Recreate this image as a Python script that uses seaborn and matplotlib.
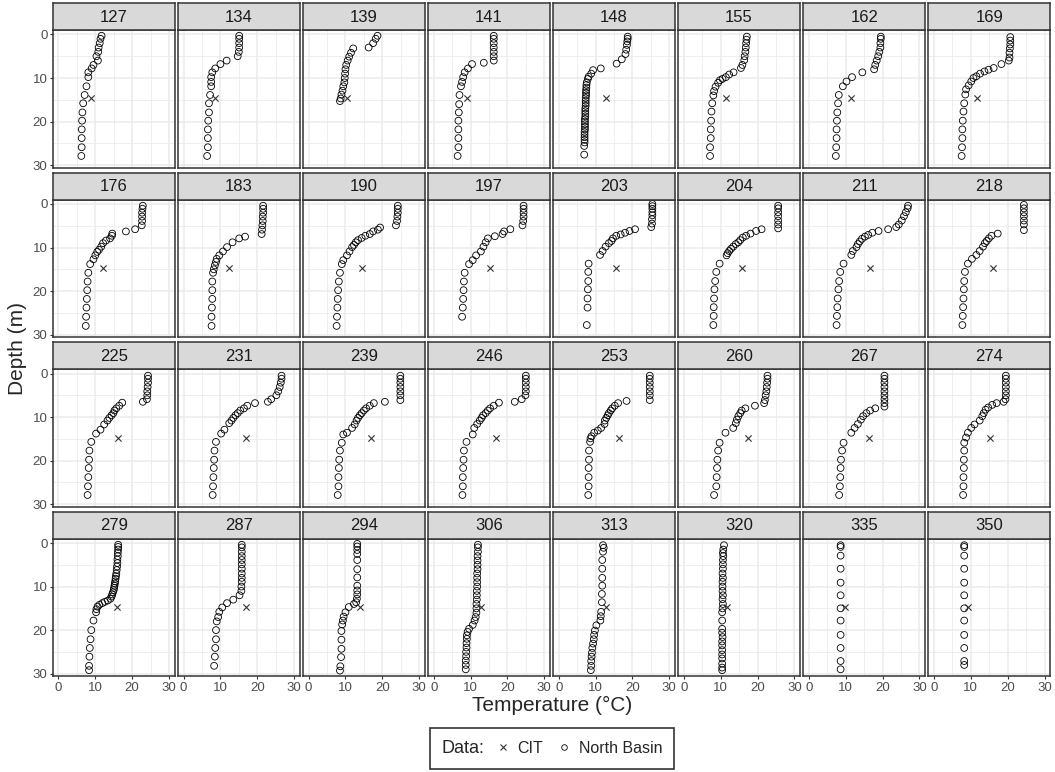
import pandas as pd
import matplotlib
matplotlib.use("Agg")
import matplotlib.pyplot as plt
import seaborn as sns
from matplotlib.lines import Line2D
from matplotlib.offsetbox import HPacker

# day of year shown in each facet
days = [127, 134, 139, 141, 148, 155, 162, 169,
        176, 183, 190, 197, 203, 204, 211, 218,
        225, 231, 239, 246, 253, 260, 267, 274,
        279, 287, 294, 306, 313, 320, 335, 350]

# North Basin profiles: (depth m, temperature C)
nb_127 = [(0.3, 11.7), (1.0, 11.4), (2.0, 11.2), (3.0, 10.9), (4.0, 10.8), (5.0, 10.3), (6.0, 10.7),
          (7.0, 9.5), (7.8, 9.0), (8.7, 8.1), (9.8, 8.1), (11.9, 7.6), (13.9, 7.1), (15.8, 6.7),
          (17.9, 6.5), (19.8, 6.4), (21.8, 6.3), (23.8, 6.3), (25.9, 6.3), (27.9, 6.2)]
nb_134 = [(0.3, 15.1), (1.0, 15.1), (2.0, 15.1), (3.0, 15.1), (4.0, 15.0), (5.0, 14.7), (6.0, 11.7),
          (6.8, 10.0), (7.8, 8.6), (8.7, 7.8), (9.8, 7.5), (10.9, 7.5), (11.9, 7.5), (13.9, 7.2),
          (15.8, 6.9), (17.9, 6.9), (19.8, 6.7), (21.8, 6.6), (23.8, 6.6), (25.9, 6.6), (27.9, 6.4)]
nb_139 = [(0.3, 18.7), (1.0, 18.2), (2.0, 17.5), (3.0, 16.3), (3.2, 12.1), (4.2, 11.5), (5.1, 11.0),
          (6.0, 10.6), (7.0, 10.2), (8.0, 10.0), (9.0, 9.9), (10.0, 9.8), (11.0, 9.7), (11.9, 9.4),
          (12.9, 9.2), (13.8, 8.9), (14.7, 8.7), (15.3, 8.5)]
nb_141 = [(0.3, 16.3), (1.0, 16.3), (2.0, 16.3), (3.0, 16.3), (4.0, 16.3), (5.0, 16.3), (6.0, 16.3),
          (6.5, 13.6), (6.8, 10.4), (7.8, 9.3), (8.7, 8.4), (9.8, 8.0), (10.9, 7.7), (11.9, 7.4),
          (13.9, 7.0), (16.0, 6.9), (17.9, 6.8), (19.8, 6.7), (21.8, 6.7), (23.8, 6.7), (25.9, 6.7),
          (27.9, 6.5)]
nb_148 = [(0.5, 18.7), (1.0, 18.7), (1.6, 18.6), (2.4, 18.5), (3.5, 18.3), (4.5, 18.1), (5.7, 17.1),
          (6.7, 15.7), (7.8, 11.4), (8.2, 9.3), (9.0, 8.8), (9.7, 8.1), (10.2, 7.9), (11.0, 7.6),
          (11.6, 7.5), (12.2, 7.5), (12.8, 7.4), (13.4, 7.4), (14.0, 7.4), (14.6, 7.3), (15.2, 7.3),
          (15.8, 7.3), (16.4, 7.3), (17.0, 7.2), (17.6, 7.2), (18.2, 7.2), (18.8, 7.2), (19.4, 7.1),
          (20.0, 7.1), (20.6, 7.1), (21.2, 7.1), (21.8, 7.1), (22.4, 7.0), (23.0, 7.0), (23.6, 7.0),
          (24.2, 7.0), (24.8, 7.0), (25.6, 6.9), (27.6, 6.9)]
nb_155 = [(0.5, 17.1), (1.2, 17.0), (2.0, 16.9), (3.0, 16.8), (4.0, 16.7), (5.0, 16.5), (5.9, 16.4),
          (7.0, 15.9), (7.7, 15.5), (8.7, 13.5), (9.2, 12.3), (9.8, 11.4), (10.2, 10.5), (10.5, 9.8),
          (11.1, 9.3), (12.0, 8.6), (13.0, 8.2), (14.0, 8.0), (15.8, 7.7), (17.7, 7.5), (19.8, 7.4),
          (21.8, 7.3), (23.8, 7.3), (25.9, 7.1), (27.9, 7.1)]
nb_162 = [(0.5, 19.5), (1.0, 19.5), (2.0, 19.4), (3.0, 19.4), (4.0, 19.1), (5.0, 18.8), (6.0, 18.4),
          (7.0, 18.0), (8.0, 17.7), (8.7, 14.5), (9.8, 11.7), (10.8, 10.2), (11.9, 9.2), (13.9, 8.1),
          (15.8, 7.9), (17.9, 7.7), (19.8, 7.6), (21.8, 7.5), (23.8, 7.5), (25.9, 7.4), (27.9, 7.3)]
nb_169 = [(0.6, 20.7), (1.4, 20.7), (2.3, 20.7), (3.2, 20.6), (4.2, 20.5), (5.3, 20.5), (6.0, 20.3),
          (6.8, 18.3), (7.7, 16.2), (8.1, 14.8), (8.5, 13.7), (9.0, 12.5), (9.6, 11.5), (10.0, 10.7),
          (10.8, 10.1), (11.7, 9.4), (12.6, 8.7), (13.8, 8.5), (15.8, 8.2), (17.7, 8.0), (19.8, 7.8),
          (21.8, 7.7), (23.8, 7.7), (25.9, 7.6), (27.9, 7.5)]
nb_176 = [(0.4, 22.9), (1.1, 22.8), (2.0, 22.7), (2.9, 22.7), (3.9, 22.7), (4.9, 22.6), (5.8, 20.8),
          (6.3, 18.3), (6.8, 14.6), (7.3, 14.5), (7.9, 14.0), (8.4, 12.9), (9.0, 12.1), (9.8, 11.6),
          (10.5, 11.0), (11.0, 10.5), (11.8, 10.0), (12.7, 9.5), (13.8, 8.6), (15.8, 8.1), (17.8, 7.9),
          (19.8, 7.8), (21.8, 7.7), (23.8, 7.6), (25.9, 7.5), (28.0, 7.4)]
nb_183 = [(0.4, 21.6), (1.1, 21.6), (2.0, 21.6), (2.9, 21.5), (3.9, 21.5), (4.9, 21.4), (5.9, 21.3),
          (6.9, 21.2), (7.5, 16.7), (7.9, 15.1), (8.8, 13.3), (9.9, 11.8), (10.9, 10.7), (11.8, 9.7),
          (12.6, 9.0), (13.3, 8.8), (14.1, 8.5), (15.0, 8.2), (15.8, 8.0), (17.8, 7.8), (19.8, 7.8),
          (21.8, 7.8), (23.8, 7.7), (25.9, 7.6), (28.0, 7.6)]
nb_190 = [(0.4, 24.2), (1.1, 24.2), (2.0, 24.2), (2.9, 24.1), (3.9, 24.0), (4.9, 23.7), (5.4, 19.4),
          (5.9, 18.8), (6.3, 17.5), (6.9, 16.6), (7.3, 15.4), (7.8, 14.4), (8.3, 13.4), (8.8, 12.8),
          (9.4, 12.3), (9.9, 11.8), (10.9, 11.1), (11.8, 10.4), (12.9, 9.4), (13.8, 9.0), (15.8, 8.5),
          (17.8, 8.2), (19.8, 8.0), (21.8, 7.9), (23.8, 7.8), (25.9, 7.7), (28.0, 7.6)]
nb_197 = [(0.4, 24.4), (1.1, 24.4), (2.0, 24.4), (2.9, 24.4), (3.9, 24.3), (4.9, 24.1), (5.8, 20.8),
          (6.3, 19.1), (6.9, 18.7), (7.4, 16.6), (7.9, 14.7), (8.8, 14.1), (9.8, 13.5), (10.9, 12.8),
          (11.8, 11.5), (12.9, 10.6), (13.8, 9.6), (15.8, 8.4), (17.8, 8.2), (19.8, 8.1), (21.8, 8.0),
          (23.8, 7.9), (25.9, 7.7)]
nb_203 = [(0.0, 25.4), (0.5, 25.4), (1.1, 25.4), (1.9, 25.4), (2.6, 25.4), (3.5, 25.3), (4.5, 25.3),
          (5.3, 25.1), (5.8, 20.7), (6.2, 19.2), (6.6, 18.0), (7.0, 16.8), (7.3, 15.6), (7.9, 14.7),
          (8.5, 14.3), (9.0, 13.6), (9.8, 12.7), (10.8, 11.9), (11.7, 11.2), (13.7, 8.1), (15.6, 8.0),
          (17.7, 8.0), (19.6, 7.9), (21.7, 7.8), (23.8, 7.8), (27.8, 7.6)]
nb_204 = [(0.4, 25.6), (1.0, 25.6), (1.9, 25.6), (2.8, 25.6), (3.8, 25.6), (4.7, 25.6), (5.6, 25.6),
          (5.8, 21.1), (6.2, 19.6), (6.8, 18.1), (7.3, 16.9), (7.7, 16.0), (8.3, 15.3), (8.8, 14.8),
          (9.2, 14.1), (9.8, 13.4), (10.3, 12.8), (10.8, 12.3), (11.3, 11.9), (11.8, 11.6), (13.7, 9.7),
          (15.6, 8.8), (17.7, 8.5), (19.6, 8.3), (21.7, 8.2), (23.7, 8.1), (25.7, 8.1), (27.8, 8.0)]
nb_211 = [(0.4, 26.9), (1.0, 26.8), (1.9, 26.3), (2.8, 25.8), (3.8, 25.2), (4.7, 24.4), (5.3, 23.7),
          (5.8, 21.5), (6.2, 18.9), (6.6, 17.2), (7.1, 16.1), (7.5, 15.2), (8.0, 14.4), (8.6, 13.8),
          (9.2, 13.3), (9.9, 12.9), (10.8, 11.9), (11.7, 11.5), (13.7, 9.4), (15.6, 8.5), (17.7, 8.2),
          (19.6, 8.0), (21.7, 7.8), (23.7, 7.7), (25.7, 7.6), (27.8, 7.5)]
nb_218 = [(0.2, 24.4), (1.0, 24.4), (1.9, 24.4), (2.8, 24.4), (3.8, 24.4), (4.7, 24.4), (6.0, 24.4),
          (6.8, 17.3), (7.3, 15.6), (7.9, 14.9), (8.5, 14.3), (9.0, 13.8), (9.8, 13.3), (10.8, 12.4),
          (11.7, 11.5), (12.6, 10.3), (13.7, 9.2), (15.6, 8.4), (17.7, 8.2), (19.6, 8.1), (21.7, 8.0),
          (23.7, 7.9), (25.7, 7.8), (27.8, 7.7)]
nb_225 = [(0.5, 24.3), (1.2, 24.3), (2.1, 24.3), (3.1, 24.2), (4.1, 24.1), (5.0, 24.1), (5.9, 24.0),
          (6.5, 22.9), (6.7, 17.3), (7.4, 16.5), (8.0, 15.7), (8.5, 15.2), (9.1, 14.9), (9.6, 14.4),
          (10.2, 13.8), (10.8, 13.3), (11.7, 12.4), (12.9, 11.4), (13.8, 10.2), (15.7, 8.9), (17.7, 8.4),
          (19.8, 8.3), (21.7, 8.2), (23.8, 8.1), (25.9, 8.0), (27.9, 7.9)]
nb_231 = [(0.5, 26.6), (1.2, 26.6), (2.1, 26.4), (3.1, 26.1), (4.1, 25.7), (5.0, 25.2), (5.9, 23.8),
          (6.5, 22.9), (6.8, 19.4), (7.4, 17.3), (8.0, 16.4), (8.5, 15.4), (9.1, 14.7), (9.6, 14.1),
          (10.2, 13.5), (10.8, 13.0), (11.4, 12.4), (12.9, 11.1), (13.8, 10.2), (15.7, 8.8), (17.7, 8.4),
          (19.8, 8.3), (21.7, 8.2), (23.8, 8.1), (25.9, 8.0), (27.9, 7.9)]
nb_239 = [(0.5, 24.9), (1.2, 24.9), (2.1, 24.9), (3.1, 24.9), (4.1, 24.9), (5.0, 24.9), (6.1, 24.9),
          (6.5, 20.7), (6.8, 17.7), (7.4, 16.6), (8.0, 15.6), (8.5, 15.0), (9.1, 14.4), (9.6, 13.9),
          (10.2, 13.4), (10.8, 13.0), (11.7, 12.5), (12.5, 11.8), (13.6, 10.4), (14.0, 9.4), (15.9, 9.0),
          (17.7, 8.5), (19.8, 8.3), (21.7, 8.2), (23.8, 8.1), (25.9, 8.1), (27.9, 7.9)]
nb_246 = [(0.5, 25.0), (1.2, 25.0), (2.1, 25.0), (3.1, 25.0), (4.1, 25.0), (5.0, 24.9), (5.9, 23.9),
          (6.5, 22.0), (6.7, 17.7), (7.4, 16.3), (8.0, 15.3), (8.5, 14.7), (9.1, 14.1), (9.6, 13.4),
          (10.2, 13.0), (10.8, 12.5), (11.6, 11.8), (12.5, 11.0), (14.0, 10.6), (15.7, 8.9), (17.7, 8.2),
          (19.8, 8.1), (21.7, 8.0), (23.8, 7.9), (25.9, 7.9), (27.9, 7.8)]
nb_253 = [(0.5, 24.7), (1.2, 24.7), (2.1, 24.7), (3.1, 24.7), (4.1, 24.7), (5.0, 24.7), (6.1, 24.7),
          (6.3, 18.4), (6.8, 16.1), (7.4, 15.2), (8.0, 14.5), (8.5, 14.1), (9.1, 13.6), (9.6, 13.3),
          (10.2, 12.9), (10.8, 12.5), (11.6, 12.4), (12.5, 11.5), (13.1, 10.6), (13.6, 9.6), (14.4, 8.9),
          (14.9, 8.6), (15.7, 8.5), (17.7, 8.2), (19.8, 8.2), (21.7, 8.1), (23.8, 8.1), (25.9, 8.1),
          (27.9, 8.0)]
nb_260 = [(0.5, 22.7), (1.2, 22.7), (2.1, 22.6), (3.1, 22.5), (4.1, 22.4), (5.0, 22.2), (6.1, 22.0),
          (6.8, 21.8), (7.4, 19.3), (8.0, 16.7), (8.5, 15.7), (9.1, 15.3), (9.8, 14.8), (10.6, 14.4),
          (11.4, 14.1), (12.5, 13.4), (13.6, 11.3), (15.9, 9.7), (17.7, 9.3), (19.8, 9.1), (21.7, 9.0),
          (23.8, 8.9), (25.9, 8.8), (27.9, 8.2)]
nb_267 = [(0.5, 20.5), (1.2, 20.5), (2.1, 20.5), (3.1, 20.5), (4.1, 20.5), (5.0, 20.5), (5.9, 20.5),
          (6.8, 20.5), (7.6, 20.5), (8.0, 18.0), (8.5, 16.6), (9.1, 15.6), (9.8, 14.7), (10.6, 14.1),
          (11.6, 13.3), (12.5, 12.4), (13.6, 11.5), (15.9, 9.4), (17.7, 9.0), (19.8, 8.7), (21.7, 8.6),
          (23.8, 8.5), (25.9, 8.4), (27.9, 8.2)]
nb_274 = [(0.5, 19.5), (1.2, 19.5), (2.1, 19.5), (3.1, 19.5), (4.1, 19.5), (5.0, 19.5), (5.9, 19.4),
          (6.5, 18.9), (6.8, 17.0), (7.2, 15.8), (7.8, 14.7), (8.3, 14.0), (9.1, 13.5), (9.8, 13.1),
          (10.8, 12.4), (11.7, 11.0), (12.5, 10.1), (13.6, 9.2), (14.7, 8.7), (15.9, 8.2), (17.7, 8.2),
          (19.8, 8.1), (21.7, 8.1), (23.8, 8.0), (25.9, 8.0), (27.9, 7.9)]
nb_279 = [(0.4, 16.2), (0.9, 16.2), (1.5, 16.2), (2.2, 16.1), (3.0, 16.1), (3.8, 16.0), (4.6, 16.0),
          (5.4, 15.9), (6.2, 15.8), (7.0, 15.7), (7.6, 15.6), (8.2, 15.5), (8.8, 15.4), (9.3, 15.3),
          (9.8, 15.2), (10.3, 15.1), (10.8, 15.0), (11.3, 14.8), (11.8, 14.6), (12.3, 14.4), (12.8, 14.1),
          (13.2, 13.4), (13.5, 12.6), (13.8, 11.9), (14.2, 11.1), (14.6, 10.6), (15.2, 10.3), (15.9, 10.2),
          (17.8, 9.5), (20.0, 8.9), (22.1, 8.7), (24.1, 8.5), (26.1, 8.4), (28.2, 8.3), (29.2, 8.3)]
nb_287 = [(0.4, 15.8), (1.0, 15.8), (2.0, 15.8), (3.0, 15.8), (3.9, 15.8), (4.9, 15.8), (5.9, 15.8),
          (7.0, 15.8), (8.0, 15.8), (8.9, 15.8), (10.0, 15.7), (11.0, 15.7), (12.0, 15.2), (13.0, 13.5),
          (13.8, 11.8), (14.8, 10.5), (15.8, 9.7), (17.0, 9.4), (18.0, 9.0), (20.0, 8.8), (22.1, 8.8),
          (24.1, 8.6), (26.1, 8.5), (28.2, 8.3)]
nb_294 = [(0.2, 13.2), (0.8, 13.2), (1.6, 13.2), (2.5, 13.2), (3.9, 13.2), (6.0, 13.2), (7.9, 13.2),
          (9.8, 13.2), (10.9, 13.2), (11.8, 13.2), (12.8, 13.1), (13.6, 12.9), (14.0, 12.3), (14.7, 10.9),
          (15.9, 10.0), (16.9, 9.5), (17.8, 9.3), (18.7, 9.1), (20.2, 8.9), (22.2, 8.9), (24.3, 8.9),
          (26.2, 8.8), (28.3, 8.6), (29.3, 8.5)]
nb_306 = [(0.4, 12.0), (1.0, 12.0), (2.0, 12.0), (3.0, 11.9), (4.0, 11.9), (5.0, 11.9), (6.0, 11.9),
          (7.0, 11.8), (8.0, 11.8), (9.0, 11.8), (10.0, 11.8), (11.0, 11.7), (12.0, 11.7), (13.0, 11.7),
          (14.0, 11.6), (15.0, 11.6), (16.0, 11.6), (17.0, 11.4), (17.8, 11.1), (18.8, 10.6), (19.7, 9.6),
          (20.4, 9.2), (21.2, 9.0), (22.0, 9.0), (23.0, 8.9), (24.0, 8.9), (25.0, 8.8), (26.0, 8.8),
          (27.0, 8.7), (28.0, 8.7), (29.0, 8.7)]
nb_313 = [(0.5, 12.0), (1.1, 12.2), (2.0, 12.0), (3.9, 11.8), (5.9, 11.8), (8.0, 11.8), (9.8, 11.8),
          (11.7, 11.7), (13.6, 11.7), (15.8, 11.5), (16.8, 11.4), (17.8, 11.3), (18.9, 10.2), (20.1, 9.8),
          (21.1, 9.6), (22.1, 9.5), (23.1, 9.3), (24.1, 9.1), (25.2, 9.0), (26.1, 8.9), (27.1, 8.8),
          (28.2, 8.8), (29.2, 8.7)]
nb_320 = [(0.5, 10.9), (1.5, 10.7), (2.3, 10.6), (3.0, 10.7), (3.9, 10.6), (4.9, 10.6), (5.9, 10.6),
          (7.0, 10.5), (8.0, 10.6), (8.9, 10.5), (10.0, 10.5), (11.0, 10.5), (12.0, 10.6), (12.9, 10.5),
          (14.0, 10.6), (15.0, 10.5), (15.9, 10.4), (17.8, 10.4), (19.7, 10.4), (20.6, 10.4), (21.6, 10.5),
          (22.6, 10.4), (23.5, 10.4), (24.6, 10.4), (25.6, 10.4), (26.5, 10.4), (27.7, 10.4), (28.6, 10.4),
          (29.2, 10.4)]
nb_335 = [(0.5, 8.6), (0.9, 8.6), (2.9, 8.6), (5.9, 8.6), (9.1, 8.6), (12.0, 8.6), (15.0, 8.6),
          (17.8, 8.6), (21.1, 8.6), (24.1, 8.6), (27.1, 8.6), (29.0, 8.6)]
nb_350 = [(0.5, 8.2), (0.9, 8.2), (2.9, 8.2), (5.9, 8.2), (9.1, 8.2), (12.0, 8.2), (15.0, 8.2),
          (17.8, 8.2), (21.1, 8.2), (24.1, 8.2), (27.1, 8.2), (28.0, 8.2)]

# CIT logger, one reading per day
cit_temp = [8.7, 8.5, 10.4, 9.1, 12.7, 11.5, 11.3, 11.6,
            12.1, 12.4, 14.4, 15.3, 15.6, 15.7, 16.6, 16.1,
            16.2, 17.0, 17.0, 17.0, 16.4, 17.4, 16.4, 15.2,
            16.0, 16.9, 13.9, 12.9, 12.9, 11.8, 9.7, 9.1]
cit_depth = [14.7, 14.7, 14.7, 14.7, 14.7, 14.7, 14.7, 14.7,
             14.7, 14.7, 14.7, 14.7, 14.7, 14.7, 14.7, 14.7,
             14.7, 14.7, 14.7, 14.7, 14.7, 14.7, 14.7, 14.7,
             14.7, 14.7, 14.7, 14.7, 14.7, 14.7, 14.7, 14.7]

profiles = [nb_127, nb_134, nb_139, nb_141, nb_148, nb_155, nb_162, nb_169,
            nb_176, nb_183, nb_190, nb_197, nb_203, nb_204, nb_211, nb_218,
            nb_225, nb_231, nb_239, nb_246, nb_253, nb_260, nb_267, nb_274,
            nb_279, nb_287, nb_294, nb_306, nb_313, nb_320, nb_335, nb_350]

rows = []
for day, prof in zip(days, profiles):
    for depth, temp in prof:
        rows.append(dict(day=day, depth=depth, temp=temp, source="North Basin"))
for day, depth, temp in zip(days, cit_depth, cit_temp):
    rows.append(dict(day=day, depth=depth, temp=temp, source="CIT"))
df = pd.DataFrame(rows)

sns.set_style("white")
plt.rcParams["font.family"] = ["Liberation Sans", "DejaVu Sans"]

g = sns.FacetGrid(df, col="day", col_wrap=8, col_order=days, sharex=True, sharey=True,
                  despine=False, height=1.6, aspect=0.82)
fig = g.figure
fig.set_size_inches(10.55, 7.72)
fig.subplots_adjust(left=0.0502, right=0.9953, top=0.961, bottom=0.124, wspace=0.029, hspace=0.232)
g.set_titles(template="")

grid_col = "#EBEBEB"
dark = "#333333"

for i, day in enumerate(days):
    ax = g.axes_dict[day]
    sub = df[df.day == day]
    sns.scatterplot(data=sub[sub.source == "North Basin"], x="temp", y="depth", ax=ax,
                    marker="o", s=24, facecolors="none", edgecolor="black", linewidth=0.6, zorder=3)
    sns.scatterplot(data=sub[sub.source == "CIT"], x="temp", y="depth", ax=ax,
                    marker="x", s=20, color=dark, linewidth=0.8, zorder=3)

    ax.set_xlim(-1.5, 31.5)
    ax.set_ylim(30.6, -1.0)
    ax.set_xticks([0, 10, 20, 30])
    ax.set_xticks([5, 15, 25], minor=True)
    ax.set_yticks([0, 10, 20, 30])
    ax.set_yticks([5, 15, 25], minor=True)
    ax.grid(which="major", color=grid_col, lw=1.1)
    ax.grid(which="minor", color=grid_col, lw=0.6)
    ax.set_axisbelow(True)
    ax.set_xlabel("")
    ax.set_ylabel("")
    for sp in ax.spines.values():
        sp.set_color(dark)
        sp.set_linewidth(1.1)

    r, c = divmod(i, 8)
    ax.tick_params(which="minor", length=0)
    ax.tick_params(which="major", color=dark, labelsize=9.5, labelcolor="#4D4D4D", pad=1.5,
                   bottom=(r == 3), labelbottom=(r == 3), left=(c == 0), labelleft=(c == 0),
                   length=2.5)

    # grey facet strip
    strip = ax.inset_axes([0, 1, 1, 0.196])
    strip.set_facecolor("#D9D9D9")
    strip.set_xticks([])
    strip.set_yticks([])
    for sp in strip.spines.values():
        sp.set_color(dark)
        sp.set_linewidth(1.1)
    strip.text(0.5, 0.47, str(day), ha="center", va="center", fontsize=12,
               color="#1A1A1A", transform=strip.transAxes)

fig.text(0.017, 0.548, "Depth (m)", rotation=90, ha="center", va="center", fontsize=15)
fig.text(0.523, 0.086, "Temperature (°C)", ha="center", va="center", fontsize=15)

h_cit = Line2D([], [], marker="x", ls="none", color=dark, markersize=4, mew=0.8)
h_nb = Line2D([], [], marker="o", ls="none", mfc="none", mec="black", markersize=4, mew=0.6)
leg = fig.legend([h_cit, h_nb], ["CIT", "North Basin"], title="Data:", ncol=2,
                 loc="center", bbox_to_anchor=(0.523, 0.031), frameon=True, fancybox=False,
                 edgecolor="black", fontsize=11.5, title_fontsize=13, handlelength=0.8,
                 handletextpad=0.5, columnspacing=0.9, borderpad=0.75)
leg.get_frame().set_linewidth(1.2)
# put the legend title to the left of the keys, as in ggplot
box = leg._legend_box
leg._legend_box = HPacker(pad=box.pad, sep=9, align="center", children=box.get_children())
leg._legend_box.set_figure(fig)
leg._legend_box.set_offset(leg._findoffset)

fig.savefig("out.png", dpi=100)
